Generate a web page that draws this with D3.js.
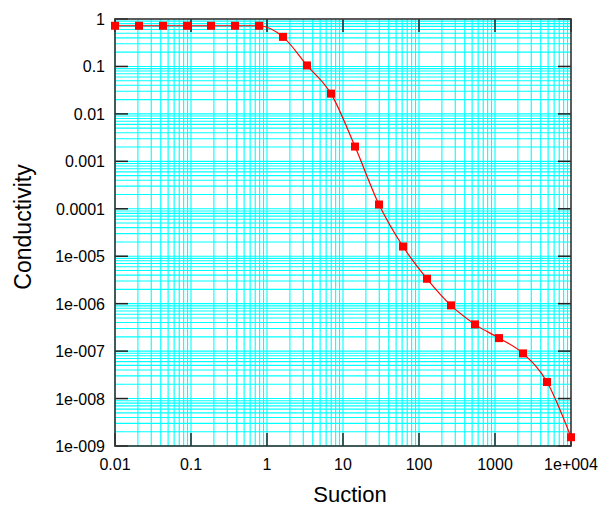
<!DOCTYPE html>
<html><head><meta charset="utf-8">
<script src="https://cdn.jsdelivr.net/npm/d3@7"></script>
<style>body{margin:0;background:#fff}svg{display:block;font-family:"Liberation Sans",Arial,sans-serif}</style>
</head><body><svg id="c" width="599" height="508"></svg>
<script>
const suction = [0.01, 0.020691, 0.042813, 0.088587, 0.1833, 0.37927, 0.78476, 1.6238, 3.3598, 6.9519, 14.384, 29.764, 61.585, 127.43, 263.67, 545.56, 1128.8, 2335.7, 4832.9, 10000];
const conductivity = [0.72, 0.72, 0.72, 0.72, 0.72, 0.72, 0.72, 0.42, 0.105, 0.0267, 0.00205, 1.23e-4, 1.6e-5, 3.35e-6, 9.2e-7, 3.66e-7, 1.88e-7, 8.95e-8, 2.23e-8, 1.53e-9];
const xTickValues = [0.01, 0.1, 1, 10, 100, 1000, 10000];
const xTickLabels = ["0.01", "0.1", "1", "10", "100", "1000", "1e+004"];
const yTickValues = [1, 0.1, 0.01, 0.001, 1e-4, 1e-5, 1e-6, 1e-7, 1e-8, 1e-9];
const yTickLabels = ["1", "0.1", "0.01", "0.001", "0.0001", "1e-005", "1e-006", "1e-007", "1e-008", "1e-009"];

const L = 115, R = 571, T = 19, B = 446;
const svg = d3.select("#c");
const x = d3.scaleLog().domain([0.01, 10000]).range([L, R]);
const y = d3.scaleLog().domain([1e-9, 1]).range([B, T]);

const xGrid = [], yGrid = [];
for (let e = -2; e < 4; e++) for (let m = 1; m < 10; m++) xGrid.push(m * Math.pow(10, e));
for (let e = -9; e < 0; e++) for (let m = 1; m < 10; m++) yGrid.push(m * Math.pow(10, e));

const grid = svg.append("g");
grid.selectAll("line.vx").data(xGrid).join("line").attr("class", "vx")
  .attr("x1", d => x(d)).attr("x2", d => x(d))
  .attr("y1", T).attr("y2", B).attr("stroke", "#00ffff").attr("stroke-width", 1.1);
grid.selectAll("line.hy").data(yGrid).join("line").attr("class", "hy")
  .attr("y1", d => y(d)).attr("y2", d => y(d))
  .attr("x1", L).attr("x2", R).attr("stroke", "#00ffff").attr("stroke-width", 1.1);

const tk = 13, tc = "#222";
const ticks = svg.append("g").attr("stroke", tc).attr("stroke-width", 1.5);
xTickValues.forEach(v => {
  const px = x(v);
  ticks.append("line").attr("x1", px).attr("x2", px).attr("y1", B).attr("y2", B - tk);
  ticks.append("line").attr("x1", px).attr("x2", px).attr("y1", T).attr("y2", T + tk);
});
yTickValues.forEach(v => {
  const py = y(v);
  ticks.append("line").attr("x1", L).attr("x2", L + tk).attr("y1", py).attr("y2", py);
  ticks.append("line").attr("x1", R).attr("x2", R - tk).attr("y1", py).attr("y2", py);
});

svg.append("rect").attr("x", L).attr("y", T).attr("width", R - L).attr("height", B - T)
  .attr("fill", "none").attr("stroke", "#333").attr("stroke-width", 1.6);

svg.selectAll("text.xl").data(xTickValues).join("text").attr("class", "xl")
  .attr("x", d => x(d)).attr("y", 470).attr("text-anchor", "middle")
  .attr("font-size", 16).attr("fill", "#000").text((d, i) => xTickLabels[i]);
svg.selectAll("text.yl").data(yTickValues).join("text").attr("class", "yl")
  .attr("x", 105).attr("y", d => y(d) + 6).attr("text-anchor", "end")
  .attr("font-size", 16).attr("fill", "#000").text((d, i) => yTickLabels[i]);

svg.append("text").attr("x", 350).attr("y", 502).attr("text-anchor", "middle")
  .attr("font-size", 22).text("Suction");
svg.append("text").attr("transform", "translate(31,227) rotate(-90)").attr("text-anchor", "middle")
  .attr("font-size", 23).text("Conductivity");

const pts = suction.map((s, i) => [s, conductivity[i]]);
const line = d3.line().x(d => x(d[0])).y(d => y(d[1])).curve(d3.curveMonotoneX);
svg.append("path").attr("d", line(pts)).attr("fill", "none").attr("stroke", "#ff0000").attr("stroke-width", 1.2);
svg.selectAll("rect.pt").data(pts).join("rect").attr("class", "pt")
  .attr("x", d => x(d[0]) - 4).attr("y", d => y(d[1]) - 4)
  .attr("width", 8).attr("height", 8).attr("fill", "#ff0000");
</script></body></html>
